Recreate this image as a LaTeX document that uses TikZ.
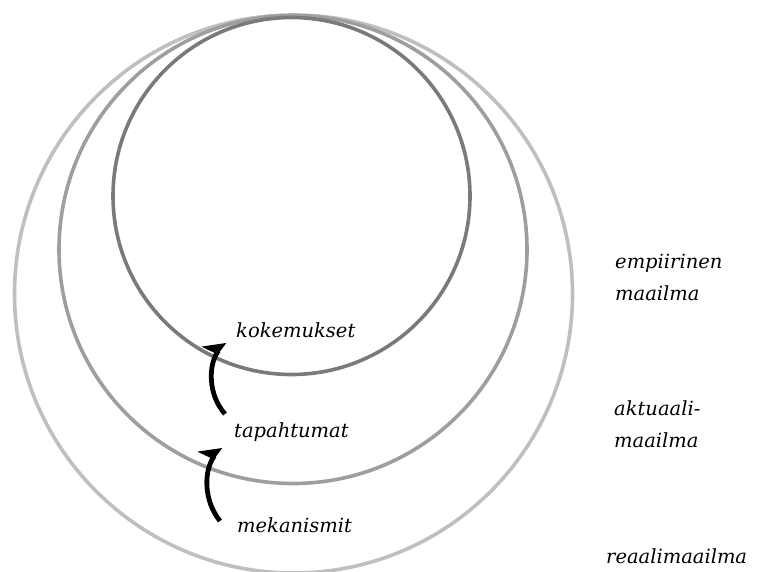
\documentclass[tikz,border=0pt]{standalone}
\usepackage{fontspec}
\setmainfont{DejaVu Serif}
\usetikzlibrary{arrows.meta}
\begin{document}
\begin{tikzpicture}[x=1pt,y=-1pt,
  ring/.style={line width=3.6pt},
  lbl/.style={font=\itshape\fontsize{19.5}{24}\selectfont, inner sep=0pt, anchor=base west},
  side/.style={font=\itshape\fontsize{19.5}{32}\selectfont, inner sep=0pt, anchor=base west, align=left},
  flow/.style={line width=4.8pt, -{Stealth[left,length=16pt,width=32pt,inset=3pt]}}]
\useasboundingbox (0,0) rectangle (760,572);
% circles
\draw[ring, color=black!25] (293.5,294) circle (279);
\draw[ring, color=black!38] (293,249.5) circle (234);
\draw[ring, color=black!52] (291.5,196) circle (178.5);
% labels
\node[lbl] (kok) at (236,337) {kokemukset};
\node[lbl] (tap) at (234,437) {tapahtumat};
\node[lbl] (mek) at (237,532) {mekanismit};
\node[side] (emp) at (615,300) {empiirinen\\maailma};
\node[side] (akt) at (614,447) {aktuaali-\\maailma};
\node[lbl] (rea) at (606,563) {reaalimaailma};
% arrows
\coordinate (a1s) at (225,414);
\coordinate (a1e) at (225,342);
\coordinate (a2s) at (220,521);
\coordinate (a2e) at (221,447);
\draw[flow] (a1s) .. controls (208,395) and (208,365) .. (a1e);
\draw[flow] (a2s) .. controls (203,500) and (204,470) .. (a2e);
\end{tikzpicture}
\end{document}
